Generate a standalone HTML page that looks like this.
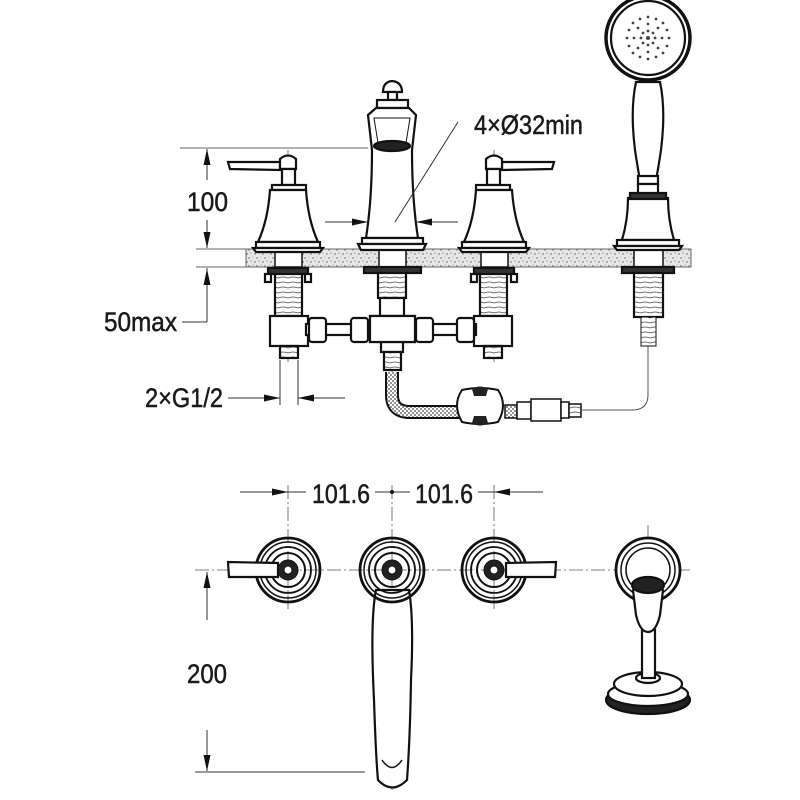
<!DOCTYPE html>
<html><head><meta charset="utf-8"><style>
html,body{margin:0;padding:0;background:#fff;}
svg{display:block;}
text{font-family:"Liberation Sans",sans-serif;fill:#1a1a1a;stroke:#1a1a1a;stroke-width:0.5;}
</style></head><body>
<svg width="800" height="800" viewBox="0 0 800 800" xmlns="http://www.w3.org/2000/svg">
<defs>
<pattern id="spk" width="8" height="8" patternUnits="userSpaceOnUse">
<rect width="8" height="8" fill="#e6e6e6"/>
<circle cx="1" cy="2" r="0.7" fill="#666"/><circle cx="5" cy="1" r="0.5" fill="#888"/>
<circle cx="3" cy="5" r="0.6" fill="#777"/><circle cx="7" cy="6" r="0.7" fill="#555"/>
</pattern>
<pattern id="mesh" width="4" height="4" patternUnits="userSpaceOnUse">
<rect width="4" height="4" fill="#fff"/><circle cx="1" cy="1" r="0.9" fill="#444"/><circle cx="3" cy="3" r="0.9" fill="#444"/>
</pattern>
<pattern id="thr" width="10" height="5" patternUnits="userSpaceOnUse">
<rect width="10" height="5" fill="#fff"/><path d="M0 3 Q5 1 10 3" stroke="#444" stroke-width="0.8" fill="none"/>
</pattern>
<marker id="ar" viewBox="0 0 16 7" refX="16" refY="3.5" markerWidth="16" markerHeight="7" markerUnits="userSpaceOnUse" orient="auto"><path d="M0 0L16 3.5L0 7z" fill="#111"/></marker>
<g id="valveTop" fill="#fff" stroke="#111" stroke-width="2.2">
<path d="M-60 -88 L-8 -88 L-8 -80 L-58 -81 Z"/>
<path d="M-8 -91 Q0 -98 8 -91 L8 -81 L-8 -81 Z"/>
<rect x="-6" y="-81" width="13" height="16"/>
<rect x="-16" y="-65" width="34" height="5"/>
<path d="M-18 -60 L18 -60 Q20 -30 30 -8 L-30 -8 Q-20 -30 -18 -60 Z"/>
<rect x="-32" y="-8" width="64" height="6"/>
<path d="M-35 -2 L35 -2 L32 2 L-32 2 Z"/>
</g>
<g id="valveBot" fill="#fff" stroke="#111" stroke-width="2.2">
<rect x="-13" y="18" width="27" height="48" fill="url(#thr)"/>
<rect x="-20" y="18" width="40" height="6" fill="#333"/>
<rect x="-23" y="24" width="6" height="8"/><rect x="17" y="24" width="6" height="8"/>
<rect x="-18" y="66" width="38" height="30"/>
<rect x="-8" y="96" width="18" height="12" fill="url(#thr)"/>
</g>
<g id="ros" fill="none" stroke="#111">
<circle r="32" stroke-width="2.8"/><circle r="28" stroke-width="1.5"/><circle r="23" stroke-width="1.8"/><circle r="17" stroke-width="2"/>
<circle r="10" fill="#222" stroke-width="1"/><circle r="4" fill="#fff" stroke-width="1"/>
</g>
</defs>

<g stroke="#555" stroke-width="0.8" stroke-dasharray="14 3 2 3">
<line x1="288" y1="150" x2="288" y2="365"/><line x1="392" y1="80" x2="392" y2="380"/>
<line x1="494" y1="150" x2="494" y2="365"/><line x1="648" y1="0" x2="648" y2="345"/>
</g>

<rect x="246" y="249" width="445" height="18" fill="url(#spk)" stroke="#666" stroke-width="1"/>
<g stroke="#666" stroke-width="1">
<line x1="196" y1="249" x2="246" y2="249"/><line x1="196" y1="267" x2="246" y2="267"/>
<line x1="180" y1="148" x2="368" y2="148"/>
</g>

<g fill="#fff" stroke="#111" stroke-width="1.5">
<rect x="275" y="249" width="27" height="18"/><rect x="379" y="249" width="27" height="18"/>
<rect x="481" y="249" width="27" height="18"/><rect x="634" y="249" width="29" height="18"/>
</g>

<use href="#valveTop" x="288" y="250"/>
<use href="#valveTop" transform="translate(494,250) scale(-1,1)"/>
<use href="#valveBot" x="288" y="250"/>
<use href="#valveBot" transform="translate(494,250) scale(-1,1)"/>

<g fill="#fff" stroke="#111" stroke-width="2.2">
<path d="M383 92 Q383 82 392 81 Q402 82 402 92 Z"/>
<rect x="388" y="92" width="9" height="8"/>
<rect x="377" y="100" width="31" height="8"/>
<path d="M368 115 L376 108 L409 108 L416 115 L412 150 Q412 200 418 238 L366 238 Q372 200 372 150 Z"/>
<path d="M374 118 L410 118 L406 143 L378 143 Z" fill="none" stroke-width="1"/>
<ellipse cx="392" cy="146" rx="18" ry="5" fill="#222"/>
<rect x="362" y="238" width="61" height="6"/>
<path d="M358 244 L426 244 L423 250 L361 250 Z"/>
<rect x="364" y="267" width="57" height="6" fill="#333"/>
<rect x="378" y="273" width="28" height="25" fill="url(#thr)"/>
<rect x="380" y="298" width="24" height="18"/>
<rect x="370" y="316" width="45" height="26"/>
<rect x="381" y="342" width="22" height="10"/>
<rect x="384" y="352" width="17" height="18" fill="url(#thr)"/>
</g>

<g fill="#fff" stroke="#111" stroke-width="2.2">
<rect x="306" y="324" width="170" height="11"/>
<rect x="309" y="318" width="17" height="24" rx="3"/><rect x="351" y="318" width="17" height="24" rx="3"/>
<rect x="416" y="318" width="17" height="24" rx="3"/><rect x="457" y="318" width="17" height="24" rx="3"/>
<rect x="370" y="316" width="45" height="26"/>
</g>

<path d="M392 372 L392 395 Q392 412 410 412 L462 412" fill="none" stroke="#111" stroke-width="14"/>
<path d="M392 372 L392 395 Q392 412 410 412 L462 412" fill="none" stroke="url(#mesh)" stroke-width="10"/>
<path d="M462 390 Q480 386 498 390 Q508 405 498 422 Q480 426 462 422 Q452 405 462 390 Z" fill="#fff" stroke="#111" stroke-width="2"/>
<path d="M472 389 Q480 384 488 389 L486 396 L474 396 Z" fill="#222"/>
<path d="M472 423 Q480 428 488 423 L486 416 L474 416 Z" fill="#222"/>
<g fill="#fff" stroke="#111" stroke-width="1.5">
<rect x="505" y="405" width="12" height="13" fill="url(#mesh)"/>
<rect x="517" y="402" width="14" height="17"/><rect x="531" y="399" width="30" height="22"/>
<rect x="561" y="402" width="8" height="16"/><rect x="569" y="404" width="12" height="13" fill="url(#thr)"/>
</g>
<path d="M581 410 L632 410 Q648 410 648 395 L648 345" fill="none" stroke="#555" stroke-width="1"/>

<g fill="#fff" stroke="#111" stroke-width="2.2">
<circle cx="648" cy="38" r="42" stroke-width="3.5"/><circle cx="648" cy="38" r="37"/>
<path d="M636 82 Q630 110 635 150 Q638 170 640 180 L656 180 Q658 170 661 150 Q666 110 660 82 Z"/>
<rect x="638" y="176" width="20" height="8"/><rect x="638" y="184" width="20" height="10"/>
<path d="M628 198 L668 198 Q668 220 674 240 L622 240 Q628 220 628 198 Z"/>
<rect x="630" y="193" width="36" height="6" fill="#333"/>
<rect x="617" y="240" width="62" height="6"/>
<path d="M614 246 L682 246 L679 250 L617 250 Z"/>
<rect x="622" y="267" width="52" height="6" fill="#333"/>
<rect x="634" y="273" width="29" height="44" fill="url(#thr)"/>
<rect x="641" y="317" width="15" height="29" fill="url(#thr)" stroke-width="1"/>
</g>
<g fill="#444">
<circle cx="648" cy="38" r="2"/>
<circle cx="655" cy="38" r="1.4"/><circle cx="641" cy="38" r="1.4"/><circle cx="648" cy="31" r="1.4"/><circle cx="648" cy="45" r="1.4"/>
<circle cx="653" cy="33" r="1.4"/><circle cx="643" cy="33" r="1.4"/><circle cx="653" cy="43" r="1.4"/><circle cx="643" cy="43" r="1.4"/>
<circle cx="662" cy="38" r="1.4"/><circle cx="634" cy="38" r="1.4"/><circle cx="648" cy="24" r="1.4"/><circle cx="648" cy="52" r="1.4"/>
<circle cx="658" cy="28" r="1.4"/><circle cx="638" cy="28" r="1.4"/><circle cx="658" cy="48" r="1.4"/><circle cx="638" cy="48" r="1.4"/>
<circle cx="669" cy="38" r="1.4"/><circle cx="627" cy="38" r="1.4"/><circle cx="648" cy="17" r="1.4"/><circle cx="648" cy="59" r="1.4"/>
<circle cx="663" cy="23" r="1.4"/><circle cx="633" cy="23" r="1.4"/><circle cx="663" cy="53" r="1.4"/><circle cx="633" cy="53" r="1.4"/>
<circle cx="667" cy="30" r="1.4"/><circle cx="629" cy="30" r="1.4"/><circle cx="667" cy="46" r="1.4"/><circle cx="629" cy="46" r="1.4"/>
<circle cx="656" cy="19" r="1.4"/><circle cx="640" cy="19" r="1.4"/><circle cx="656" cy="57" r="1.4"/><circle cx="640" cy="57" r="1.4"/>
</g>

<g stroke="#333" stroke-width="1" fill="none">
<line x1="207" y1="180" x2="207" y2="149" marker-end="url(#ar)"/>
<line x1="207" y1="220" x2="207" y2="248" marker-end="url(#ar)"/>
<line x1="207" y1="268" x2="207" y2="322"/>
<line x1="207" y1="300" x2="207" y2="269" marker-end="url(#ar)"/>
<line x1="182" y1="322" x2="207" y2="322"/>
<line x1="325" y1="222" x2="368" y2="222" marker-end="url(#ar)"/>
<line x1="458" y1="222" x2="416" y2="222" marker-end="url(#ar)"/>
<line x1="395" y1="222" x2="458" y2="122"/>
<line x1="280" y1="360" x2="280" y2="405"/><line x1="298" y1="360" x2="298" y2="405"/>
<line x1="228" y1="398" x2="280" y2="398" marker-end="url(#ar)"/>
<line x1="345" y1="398" x2="298" y2="398" marker-end="url(#ar)"/>
</g>
<text x="187" y="211" font-size="27" textLength="41" lengthAdjust="spacingAndGlyphs">100</text>
<text x="104" y="331" font-size="27" textLength="73" lengthAdjust="spacingAndGlyphs">50max</text>
<text x="145" y="407" font-size="27" textLength="78" lengthAdjust="spacingAndGlyphs">2×G1/2</text>
<text x="474" y="134" font-size="27" textLength="109" lengthAdjust="spacingAndGlyphs">4×Ø32min</text>

<g stroke="#555" stroke-width="0.8" stroke-dasharray="14 3 2 3">
<line x1="195" y1="570" x2="690" y2="570"/>
<line x1="288" y1="485" x2="288" y2="610"/><line x1="392" y1="485" x2="392" y2="790"/>
<line x1="494" y1="485" x2="494" y2="610"/><line x1="648" y1="525" x2="648" y2="610"/>
</g>
<g stroke="#333" stroke-width="1" fill="none">
<line x1="240" y1="492" x2="288" y2="492" marker-end="url(#ar)"/>
<line x1="288" y1="492" x2="306" y2="492"/>
<line x1="375" y1="492" x2="410" y2="492"/>
<line x1="478" y1="492" x2="494" y2="492"/>
<line x1="543" y1="492" x2="494" y2="492" marker-end="url(#ar)"/>
<line x1="207" y1="620" x2="207" y2="572" marker-end="url(#ar)"/>
<line x1="207" y1="730" x2="207" y2="771" marker-end="url(#ar)"/>
<line x1="195" y1="772" x2="365" y2="772"/>
</g>
<circle cx="392" cy="492" r="2" fill="#111"/>
<text x="312" y="503" font-size="27" textLength="58" lengthAdjust="spacingAndGlyphs">101.6</text>
<text x="415" y="503" font-size="27" textLength="58" lengthAdjust="spacingAndGlyphs">101.6</text>
<text x="187" y="683" font-size="27" textLength="40" lengthAdjust="spacingAndGlyphs">200</text>

<use href="#ros" x="288" y="570"/>
<use href="#ros" x="494" y="570"/>
<path d="M228 562 L278 563 L278 577 L229 577 Z" fill="#fff" stroke="#111" stroke-width="2.2"/>
<path d="M506 563 L556 562 L555 577 L506 577 Z" fill="#fff" stroke="#111" stroke-width="2.2"/>

<path d="M376 590 Q370 620 374 700 Q376 760 378 780 Q392 795 407 780 Q410 740 411 680 Q414 620 409 590 Z" fill="#fff" stroke="#111" stroke-width="2.2"/>
<path d="M382 760 Q392 775 402 760" fill="none" stroke="#111" stroke-width="1.5"/>
<use href="#ros" x="392" y="570"/>

<g fill="#fff" stroke="#111" stroke-width="2.2">
<circle cx="648" cy="570" r="32" stroke-width="2.8"/><circle cx="648" cy="570" r="27" stroke-width="1.5"/><circle cx="648" cy="570" r="22" fill="none" stroke-width="1.5"/>
<ellipse cx="648" cy="700" rx="42" ry="14" fill="#222"/>
<ellipse cx="648" cy="694" rx="40" ry="12"/>
<ellipse cx="648" cy="684" rx="34" ry="12"/>
<ellipse cx="648" cy="678" rx="12" ry="5"/>
<rect x="642" y="630" width="13" height="48"/>
<path d="M633 590 Q648 580 663 590 L660 615 Q656 632 648 632 Q640 632 636 615 Z"/>
<ellipse cx="648" cy="585" rx="16" ry="8" fill="#222"/>
</g>
</svg>
</body></html>
